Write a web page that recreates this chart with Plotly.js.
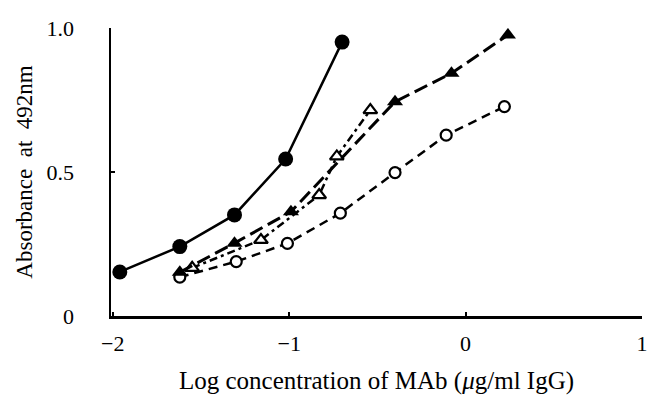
<!DOCTYPE html>
<html>
<head>
<meta charset="utf-8">
<script src="https://cdn.plot.ly/plotly-3.0.1.min.js"></script>
<style>html,body{margin:0;padding:0;background:#fff;}#chart{width:647px;height:404px;}</style>
</head>
<body>
<div id="chart"></div>
<script>
// Filled circles (solid line)
const xFilledCircle = [-1.96, -1.62, -1.31, -1.02, -0.70];
const yFilledCircle = [0.153, 0.241, 0.351, 0.545, 0.951];
// Filled triangles (long dash)
const xFilledTri = [-1.62, -1.31, -0.99, -0.40, -0.08, 0.24];
const yFilledTri = [0.152, 0.253, 0.362, 0.744, 0.843, 0.976];
// Open triangles (dash-dot)
const xOpenTri = [-1.55, -1.16, -0.83, -0.73, -0.54];
const yOpenTri = [0.167, 0.264, 0.420, 0.554, 0.715];
// Open circles (dashed)
const xOpenCircle = [-1.62, -1.30, -1.01, -0.71, -0.40, -0.11, 0.22];
const yOpenCircle = [0.135, 0.189, 0.252, 0.357, 0.498, 0.628, 0.727];

const xTickVals = [-2, -1, 0, 1];
const xTickText = ['\u22122', '\u22121', '0', '1'];
const yTickVals = [0, 0.5, 1.0];
const yTickText = ['0', '0.5', '1.0'];

const fontFam = '"Liberation Serif", "Times New Roman", serif';
const NB = '\u00a0';

const traces = [
  {x: xOpenCircle, y: yOpenCircle, mode: 'lines+markers', type: 'scatter',
   line: {color: '#000', width: 2.5, dash: '9px,6px'},
   marker: {symbol: 'circle', size: 11, color: '#fff', line: {color: '#000', width: 2.2}}},
  {x: xOpenTri, y: yOpenTri, mode: 'lines+markers', type: 'scatter',
   line: {color: '#000', width: 2.5, dash: '8px,4px,3px,4px'},
   marker: {symbol: 'triangle-up', size: 12, color: '#fff', line: {color: '#000', width: 2.2}}},
  {x: xFilledTri, y: yFilledTri, mode: 'lines+markers', type: 'scatter',
   line: {color: '#000', width: 3, dash: '14px,6px'},
   marker: {symbol: 'triangle-up', size: 14, color: '#000'}},
  {x: xFilledCircle, y: yFilledCircle, mode: 'lines+markers', type: 'scatter',
   line: {color: '#000', width: 2.5},
   marker: {symbol: 'circle', size: 15, color: '#000'}}
];

const layout = {
  width: 647, height: 404,
  margin: {l: 111, r: 5, t: 28, b: 88},
  paper_bgcolor: '#fff', plot_bgcolor: '#fff',
  showlegend: false,
  font: {family: fontFam, color: '#000', size: 22},
  xaxis: {
    range: [-2.01, 1.0], showgrid: false, zeroline: false,
    showline: true, linecolor: '#000', linewidth: 2.5,
    ticks: 'inside', ticklen: 4, tickwidth: 2, tickcolor: '#000',
    tickvals: xTickVals, ticktext: xTickText,
    tickfont: {family: fontFam, size: 22, color: '#000'},
    ticklabelstandoff: 6, ticklabeloverflow: 'allow',
    title: {text: 'Log concentration of MAb (<i>\u03bc</i>g/ml IgG)' + NB.repeat(5), font: {family: fontFam, size: 25, color: '#000'}, standoff: 17}
  },
  yaxis: {
    range: [0, 1.0], showgrid: false, zeroline: false,
    showline: true, linecolor: '#000', linewidth: 2.5,
    ticks: 'inside', ticklen: 4, tickwidth: 2, tickcolor: '#000',
    tickvals: yTickVals, ticktext: yTickText,
    tickfont: {family: fontFam, size: 22, color: '#000'},
    ticklabelstandoff: 30,
    title: {text: NB.repeat(3) + 'Absorbance' + NB + ' at' + NB + ' 492nm', font: {family: fontFam, size: 23, color: '#000'}, standoff: 8}
  }
};

Plotly.newPlot('chart', traces, layout, {displayModeBar: false, staticPlot: true});
</script>
</body>
</html>
